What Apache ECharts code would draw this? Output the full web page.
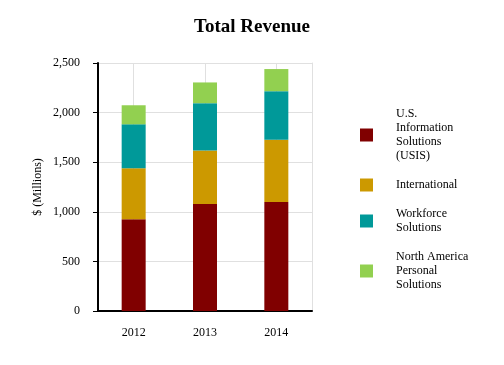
<!DOCTYPE html>
<html><head><meta charset="utf-8">
<script src="https://cdn.jsdelivr.net/npm/echarts@6/dist/echarts.min.js"></script>
<style>html,body{margin:0;padding:0;background:#fff}#c{width:504px;height:365px}</style>
</head><body><div id="c"></div>
<script>
const categories = ['2012', '2013', '2014'];
const seriesNames = ['U.S.\nInformation\nSolutions\n(USIS)', 'International', 'Workforce\nSolutions', 'North America\nPersonal\nSolutions'];
const usis = [926, 1078, 1098];
const international = [513, 540, 628];
const workforce = [443, 477, 490];
const napers = [192, 209, 223];
const colors = ['#800000', '#CC9900', '#009999', '#92D050'];
const values = [usis, international, workforce, napers];

const font = '"Liberation Serif", "Times New Roman", serif';
const grid = '#e0e0e0';
const chart = echarts.init(document.getElementById('c'), null, {renderer: 'canvas'});
const barSeries = seriesNames.map((n, i) => ({
  name: n, type: 'bar', stack: 'total', data: values[i], barWidth: 24, z: 3,
  itemStyle: {color: colors[i]}
}));
chart.setOption({
  animation: false,
  title: {text: 'Total Revenue', left: 'center', top: 13,
    textStyle: {fontFamily: font, fontSize: 19, fontWeight: 'bold', color: '#000'}},
  legend: {
    orient: 'vertical', left: 360, top: 107, padding: 0, itemWidth: 13, itemHeight: 13, itemGap: 15,
    icon: 'rect',
    textStyle: {fontFamily: font, fontSize: 12, color: '#000', lineHeight: 14, padding: [0, 0, 0, 18]},
    data: seriesNames
  },
  grid: {left: 98, right: 192, top: 63, bottom: 54},
  xAxis: {
    type: 'category', data: categories,
    axisLine: {lineStyle: {color: '#000', width: 2}},
    axisTick: {alignWithLabel: true, length: 5, lineStyle: {color: '#000'}},
    axisLabel: {fontFamily: font, fontSize: 12, color: '#000', margin: 16},
    splitLine: {show: false}
  },
  yAxis: [{
    type: 'value', min: 0, max: 2500, interval: 500,
    name: '$ (Millions)', nameLocation: 'middle', nameGap: 54,
    nameTextStyle: {fontFamily: font, fontSize: 12, color: '#000'},
    axisLine: {show: true, lineStyle: {color: '#000', width: 2}},
    axisTick: {show: true, length: 5, lineStyle: {color: '#000'}},
    axisLabel: {fontFamily: font, fontSize: 12, color: '#000', margin: 18,
      formatter: v => v.toLocaleString('en-US')},
    splitLine: {lineStyle: {color: grid}}
  }, {
    type: 'value', min: 0, max: 2500, interval: 500, position: 'right',
    axisLine: {show: true, lineStyle: {color: grid, width: 1}},
    axisTick: {show: false}, axisLabel: {show: false}, splitLine: {show: false}
  }],
  series: [{
    type: 'line', data: [], z: 1, silent: true,
    markLine: {
      z: 1, symbol: 'none', silent: true, label: {show: false},
      lineStyle: {color: grid, type: 'solid', width: 1},
      data: categories.map(c => ({xAxis: c}))
    }
  }].concat(barSeries)
});
</script></body></html>
